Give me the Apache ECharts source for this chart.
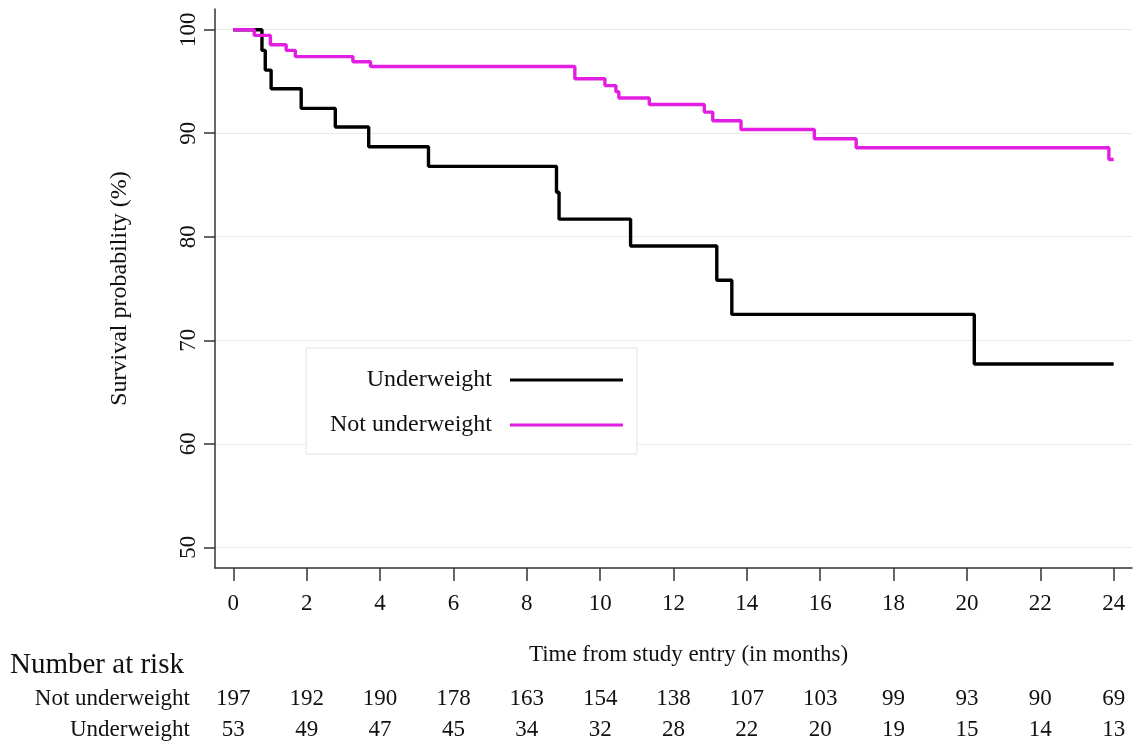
<!DOCTYPE html>
<html>
<head>
<meta charset="utf-8">
<title>Survival by weight status</title>
<script src="https://cdn.jsdelivr.net/npm/echarts@6/dist/echarts.min.js"></script>
<style>
    body { margin: 0; background: #fff; }
    #chart { width: 1144px; height: 744px; }
</style>
</head>
<body>
<div id="chart"></div>
<script>
    // Kaplan-Meier steps (months, survival %)
    const underTimes = [0, 0.78, 0.87, 1.03, 1.85, 2.78, 3.69, 5.32, 8.81, 8.88, 10.83, 13.18, 13.59, 20.2, 24];
    const underSurv = [100, 98.0, 96.1, 94.3, 92.4, 90.6, 88.7, 86.8, 84.3, 81.7, 79.1, 75.8, 72.5, 67.7, 67.7];

    const notUnderTimes = [0, 0.57, 1.01, 1.44, 1.69, 3.26, 3.74, 9.31, 10.13, 10.43, 10.51, 11.34, 12.84, 13.07, 13.84, 15.84, 16.98, 23.87, 24];
    const notUnderSurv = [100, 99.45, 98.55, 98.0, 97.4, 96.9, 96.45, 95.26, 94.6, 94.0, 93.4, 92.78, 92.04, 91.2, 90.36, 89.46, 88.6, 87.46, 87.46];

    const monthTicks = [0, 2, 4, 6, 8, 10, 12, 14, 16, 18, 20, 22, 24];
    const survTicks = [50, 60, 70, 80, 90, 100];

    // number at risk, one per month tick
    const riskNotUnder = [197, 192, 190, 178, 163, 154, 138, 107, 103, 99, 93, 90, 69];
    const riskUnder = [53, 49, 47, 45, 34, 32, 28, 22, 20, 19, 15, 14, 13];

    const font = 'Liberation Serif';
    const ink = '#111';

    function pairs(xs, ys) {
        return xs.map(function (x, i) { return [x, ys[i]]; });
    }

    // extra x axes that only carry the risk-table numbers under each tick
    function riskAxis(name, counts, offset) {
        return {
            type: 'value',
            gridIndex: 0,
            position: 'bottom',
            offset: offset,
            min: -0.5,
            max: 24.5,
            name: name,
            nameLocation: 'start',
            nameGap: 25,
            nameTextStyle: { fontFamily: font, fontSize: 23, color: ink, verticalAlign: 'middle' },
            axisLine: { show: false },
            axisTick: { show: false },
            splitLine: { show: false },
            axisLabel: {
                customValues: monthTicks,
                margin: 0,
                verticalAlign: 'middle',
                fontFamily: font,
                fontSize: 23,
                color: ink,
                formatter: function (v) { return String(counts[monthTicks.indexOf(v)]); }
            }
        };
    }

    const chart = echarts.init(document.getElementById('chart'));
    const option = {
        animation: false,
        backgroundColor: '#fff',
        title: {
            text: 'Number at risk',
            left: 10,
            top: 651,
            padding: 0,
            textStyle: { fontFamily: font, fontSize: 29, fontWeight: 'normal', color: ink }
        },
        grid: { left: 215, right: 12, top: 9, bottom: 176, containLabel: false },
        legend: {
            data: ['Underweight', 'Not underweight'],
            orient: 'vertical',
            align: 'right',
            left: 306,
            top: 348,
            padding: [20, 14, 17, 24],
            itemGap: 21,
            itemWidth: 113,
            itemHeight: 3,
            icon: 'rect',
            backgroundColor: '#fff',
            borderColor: '#e2e2e2',
            borderWidth: 1,
            textStyle: { fontFamily: font, fontSize: 24, color: ink, padding: [0, 13, 0, 0], lineHeight: 24 }
        },
        xAxis: [
            {
                type: 'value',
                min: -0.5,
                max: 24.5,
                name: 'Time from study entry (in months)',
                nameLocation: 'middle',
                nameGap: 75,
                nameTextStyle: { fontFamily: font, fontSize: 23, color: ink, padding: [0, 0, 0, 30] },
                axisLine: { show: true, onZero: false, lineStyle: { color: '#333', width: 1.5 } },
                axisTick: { show: true, customValues: monthTicks, length: 13, lineStyle: { color: '#333', width: 1.5 } },
                axisLabel: { customValues: monthTicks, margin: 24, fontFamily: font, fontSize: 23, color: ink },
                splitLine: { show: false }
            },
            riskAxis('Not underweight', riskNotUnder, 131),
            riskAxis('Underweight', riskUnder, 162)
        ],
        yAxis: {
            type: 'value',
            min: 48,
            max: 102,
            name: 'Survival probability (%)',
            nameLocation: 'middle',
            nameGap: 83,
            nameTextStyle: { fontFamily: font, fontSize: 24, color: ink },
            axisLine: { show: true, onZero: false, lineStyle: { color: '#333', width: 1.5 } },
            axisTick: { show: true, customValues: survTicks, length: 11, lineStyle: { color: '#333', width: 1.5 } },
            axisLabel: { customValues: survTicks, rotate: 90, margin: 15, fontFamily: font, fontSize: 23, color: ink },
            splitLine: { show: true, lineStyle: { color: '#e9e9e9', width: 1.2 } }
        },
        series: [
            {
                name: 'Underweight',
                type: 'line',
                step: 'end',
                showSymbol: false,
                color: '#000',
                lineStyle: { color: '#000', width: 3.4 },
                data: pairs(underTimes, underSurv)
            },
            {
                name: 'Not underweight',
                type: 'line',
                step: 'end',
                showSymbol: false,
                color: '#e31ee3',
                lineStyle: { color: '#e31ee3', width: 3.4 },
                data: pairs(notUnderTimes, notUnderSurv)
            }
        ]
    };
    chart.setOption(option);
</script>
</body>
</html>
